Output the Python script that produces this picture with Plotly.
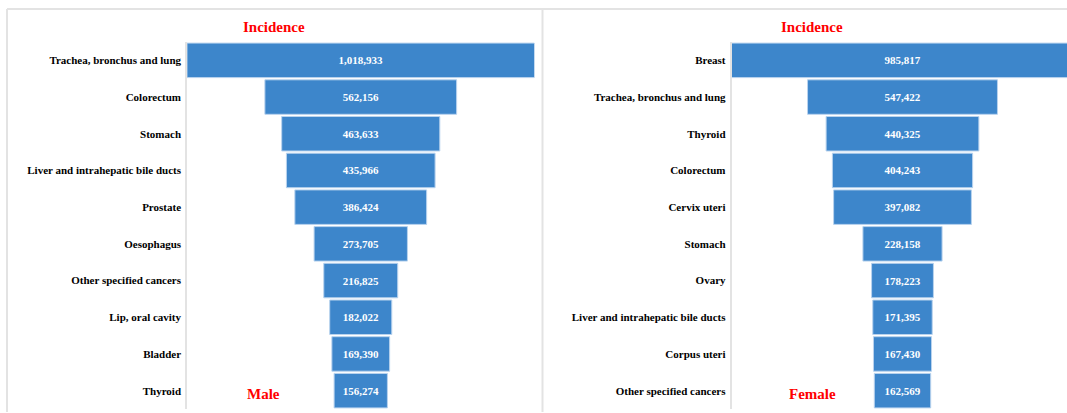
import plotly.graph_objects as go

W, H = 1067, 413

male_sites = ["Trachea, bronchus and lung", "Colorectum", "Stomach",
              "Liver and intrahepatic bile ducts", "Prostate", "Oesophagus",
              "Other specified cancers", "Lip, oral cavity", "Bladder", "Thyroid"]
male_vals = [1018933, 562156, 463633, 435966, 386424, 273705, 216825, 182022, 169390, 156274]

female_sites = ["Breast", "Trachea, bronchus and lung", "Thyroid", "Colorectum",
                "Cervix uteri", "Stomach", "Ovary", "Liver and intrahepatic bile ducts",
                "Corpus uteri", "Other specified cancers"]
female_vals = [985817, 547422, 440325, 404243, 397082, 228158, 178223, 171395, 167430, 162569]

BAR = "#3d86cb"
EDGE = "#b9d3ee"
SERIF = "Liberation Serif"
GRID = "#e3e3e3"

def px(x):
    return x / W

def py(y):
    return (H - y) / H

fig = go.Figure()
common = dict(
    orientation="h",
    texttemplate="%{x:,}",
    textposition="inside",
    insidetextanchor="middle",
    constraintext="none",
    textfont=dict(family=SERIF, size=11, color="white", weight="bold"),
    marker=dict(color=BAR, line=dict(color=EDGE, width=1)),
    connector=dict(visible=False),
    hoverinfo="y+x",
)
fig.add_trace(go.Funnel(y=male_sites, x=male_vals, xaxis="x", yaxis="y", **common))
fig.add_trace(go.Funnel(y=female_sites, x=female_vals, xaxis="x2", yaxis="y2", **common))

ydom = [py(409), py(42)]
tickfont = dict(family=SERIF, size=11, color="black", weight="bold")
mmax = max(male_vals) / 2
fmax = max(female_vals) / 2
# right panel: plot extends a little beyond the page edge in the original
f_scale = (fmax * 2) / (1073.5 - 731.5)
fig.update_layout(
    width=W, height=H,
    margin=dict(l=0, r=0, t=0, b=0, pad=0),
    paper_bgcolor="white", plot_bgcolor="white",
    showlegend=False,
    funnelgap=0.06,
    xaxis=dict(domain=[px(187), px(534.5)], range=[-mmax, mmax], visible=False, fixedrange=True),
    yaxis=dict(domain=ydom, anchor="x", autorange="reversed", showline=True, linecolor=GRID,
               linewidth=1.5, ticks="", tickfont=tickfont, automargin=False, ticklabelstandoff=2),
    xaxis2=dict(domain=[px(731.5), 1], range=[-fmax, fmax - (1073.5 - W) * f_scale],
                visible=False, anchor="y2"),
    yaxis2=dict(domain=ydom, anchor="x2", autorange="reversed", showline=True, linecolor=GRID,
                linewidth=1.5, ticks="", tickfont=tickfont, automargin=False, ticklabelstandoff=2),
)

# panel frames
line = dict(color=GRID, width=2)
fig.add_shape(type="line", xref="paper", yref="paper", x0=px(7), x1=1, y0=py(9), y1=py(9), line=line)
fig.add_shape(type="line", xref="paper", yref="paper", x0=px(7), x1=px(7), y0=py(9), y1=py(412), line=line)
fig.add_shape(type="line", xref="paper", yref="paper", x0=px(542.5), x1=px(542.5), y0=py(9), y1=py(412), line=line)

red = dict(family=SERIF, size=15, color="red", weight="bold")
for x, y, t in [(274, 26.5, "Incidence"), (811.5, 27, "Incidence"),
                (263, 393.5, "Male"), (812.8, 393.5, "Female")]:
    fig.add_annotation(x=px(x), y=py(y), xref="paper", yref="paper", text=t,
                       showarrow=False, font=red, xanchor="center", yanchor="middle")

fig.write_html("out.html", config={"displayModeBar": False},
               post_script="document.body.style.margin='0';document.body.style.overflow='hidden';")
